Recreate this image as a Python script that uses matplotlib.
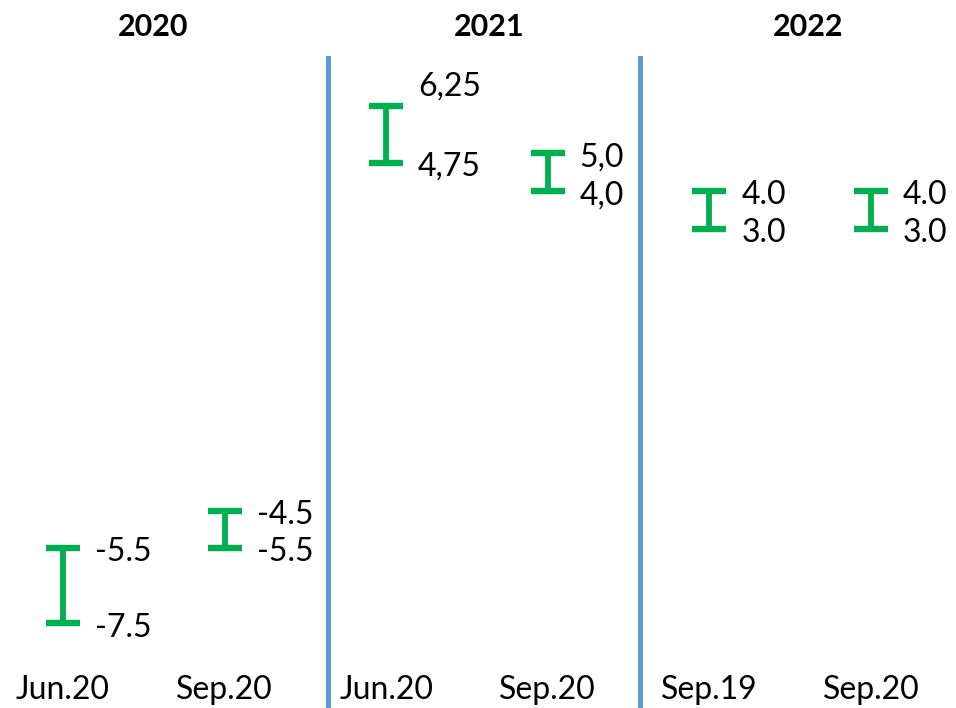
import numpy as np
from matplotlib import pyplot as plt
import matplotlib.transforms as mtransforms

plt.rcParams['font.family'] = ['Lato', 'DejaVu Sans']

# data
categories = ['Jun.20', 'Sep.20', 'Jun.20', 'Sep.20', 'Sep.19', 'Sep.20']
low = [-7.5, -5.5, 4.75, 4.0, 3.0, 3.0]
high = [-5.5, -4.5, 6.25, 5.0, 4.0, 4.0]
low_labels = ['-7.5', '-5.5', '4,75', '4,0', '3.0', '3.0']
high_labels = ['-5.5', '-4.5', '6,25', '5,0', '4.0', '4.0']
years = ['2020', '2021', '2022']

green = '#00B050'
blue = '#5B9BD5'

fig = plt.figure(figsize=(9.56, 7.08), dpi=100)
ax = fig.add_axes([0, 0, 1, 1])
ax.set_xlim(-0.39, 5.526)
ax.set_ylim(-9.75, 9.08)
ax.axis('off')

x = np.arange(len(categories))
low = np.array(low)
high = np.array(high)
mid = (low + high) / 2
ax.errorbar(x, mid, yerr=[mid - low, high - mid], fmt='none', ecolor=green,
            elinewidth=4.2, capsize=12, capthick=4.6)

for i in range(len(x)):
    lift = 14 if i == 2 else -3
    ax.annotate(high_labels[i], (x[i], high[i]), xytext=(23, lift),
                textcoords='offset points', ha='left', va='center', fontsize=23)
    ax.annotate(low_labels[i], (x[i], low[i]), xytext=(23, -3),
                textcoords='offset points', ha='left', va='center', fontsize=23)

# separators between years
for sx in [1.64, 3.57]:
    ax.plot([sx, sx], [-9.75, 7.54], color=blue, lw=3.6)

trans = mtransforms.blended_transform_factory(ax.transData, ax.transAxes)
for i in range(len(x)):
    ax.text(x[i], 1 - 690 / 708, categories[i], transform=trans,
            ha='center', va='center', fontsize=23)

for xp, yr in zip([0.160, 0.5115, 0.845], years):
    ax.text(xp, 1 - 27 / 708, yr, transform=ax.transAxes, ha='center',
            va='center', fontsize=22, fontweight='bold')

plt.savefig('out.png', dpi=100)
